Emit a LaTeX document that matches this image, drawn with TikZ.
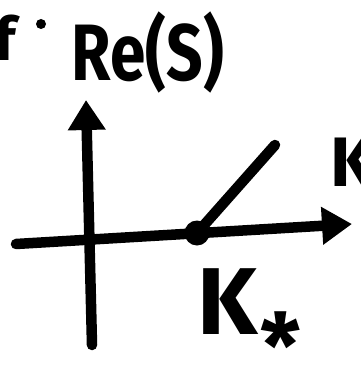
\documentclass[tikz,border=0pt]{standalone}
\usepackage{fontspec}
\setmainfont{Fira Sans}
\usetikzlibrary{arrows.meta}
\begin{document}
\begin{tikzpicture}[x=1pt,y=-1pt,
  axis/.style={line width=10.5pt,line cap=round,-{Triangle[length=30pt,width=36pt]}},
  stroke/.style={line width=10.5pt,line cap=round},
  hand/.style={font=\bfseries, inner sep=0pt, anchor=center}]
\useasboundingbox (0,0) rectangle (360,369);
\coordinate (vbot) at (92,345);
\coordinate (vtop) at (86,100);
\coordinate (hl) at (16,244);
\coordinate (hr) at (352,224);
\draw[axis] (vbot) -- (vtop);
\draw[axis] (hl) -- (hr);
\node[circle,fill,minimum size=25pt,inner sep=0pt] (dot) at (197,233) {};
\coordinate (lend) at (275,145);
\draw[stroke] (dot.center) -- (lend);
\node[hand,font=\fontsize{80}{80}\selectfont\bfseries,xscale=0.8] (re) at (148,53) {Re(S)};
\node[hand,font=\fontsize{70}{70}\selectfont\bfseries] (k) at (353,162) {K};
\node[hand,font=\fontsize{95}{95}\selectfont\bfseries] (ks) at (228,302) {K};
\node[hand,font=\fontsize{90}{90}\selectfont\bfseries] (ast) at (281,345) {*};
\node[hand,font=\fontsize{60}{60}\selectfont\bfseries] (f) at (5,38) {f};
\fill (41,24) circle (5pt);
\end{tikzpicture}
\end{document}
